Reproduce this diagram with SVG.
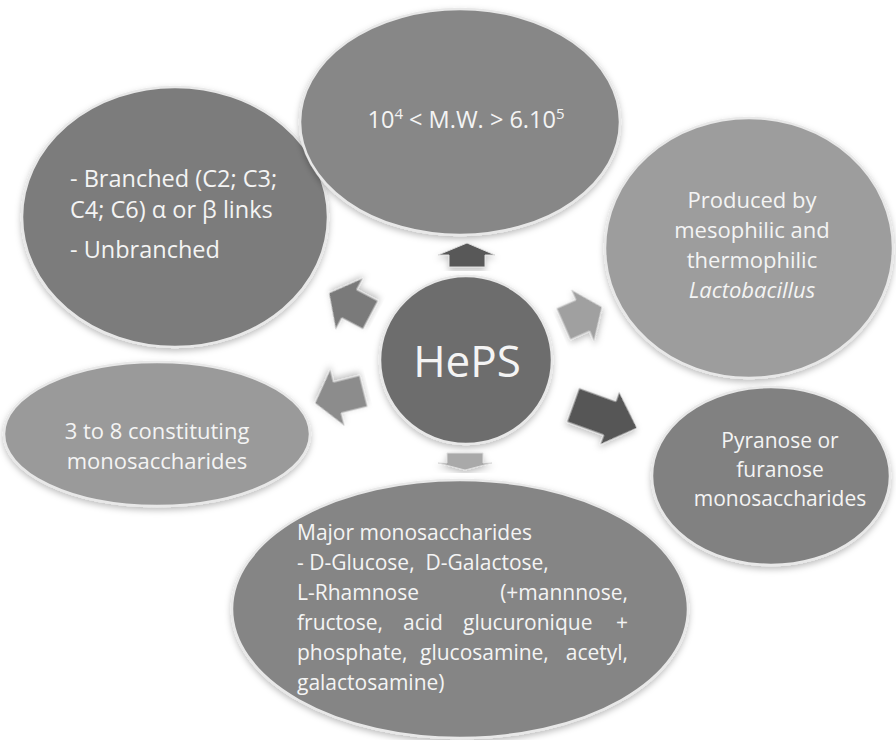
<svg xmlns="http://www.w3.org/2000/svg" width="896" height="740" viewBox="0 0 896 740">
<defs>
<filter id="sh" x="-10%" y="-10%" width="120%" height="125%">
<feDropShadow dx="0" dy="3" stdDeviation="3" flood-color="#000" flood-opacity="0.25"/>
</filter>
<style>
.node ellipse{stroke:#e8e8e8;stroke-width:2.5;filter:url(#sh)}
.t{font-family:"Open Sans","Liberation Sans",sans-serif;fill:#f4f4f4;font-size:22px}
.c{text-anchor:middle}
.s{font-size:21px}
.e{text-anchor:end}
.big{font-size:44px}
.arrow{stroke:#dcdcdc;stroke-width:1;filter:url(#sh)}
</style>
</defs>
<rect width="896" height="740" fill="#ffffff"/>

<g id="node-branched" class="node">
<ellipse cx="175" cy="217" rx="153" ry="130" fill="#7b7b7b"/>
<text class="t" x="70" y="187" style="font-size:23.5px">- Branched (C2; C3;</text>
<text class="t" x="70" y="218" style="font-size:23.5px">C4; C6) α or β links</text>
<text class="t" x="70" y="258" style="font-size:23.5px">- Unbranched</text>
</g>

<g id="node-mw" class="node">
<ellipse cx="460" cy="122" rx="160" ry="113" fill="#878787"/>
<text class="t c" x="466" y="128" style="font-size:23.5px">10<tspan style="font-size:15px" dy="-9">4</tspan><tspan dy="9"> &lt; M.W. &gt; 6.10</tspan><tspan style="font-size:15px" dy="-9">5</tspan></text>
</g>

<g id="node-produced" class="node">
<ellipse cx="749" cy="248" rx="144" ry="130" fill="#9d9d9d"/>
<text class="t c" x="752" y="208">Produced by</text>
<text class="t c" x="752" y="238">mesophilic and</text>
<text class="t c" x="752" y="268">thermophilic</text>
<text class="t c" x="752" y="298" font-style="italic">Lactobacillus</text>
</g>

<g id="node-constituting" class="node">
<ellipse cx="157" cy="434" rx="153" ry="72" fill="#9a9a9a"/>
<text class="t c" x="157" y="439">3 to 8 constituting</text>
<text class="t c" x="157" y="469">monosaccharides</text>
</g>

<g id="node-pyranose" class="node">
<ellipse cx="771" cy="476" rx="119" ry="89" fill="#818181"/>
<text class="t c s" x="780" y="448">Pyranose or</text>
<text class="t c s" x="780" y="477">furanose</text>
<text class="t c s" x="780" y="506">monosaccharides</text>
</g>

<g id="node-major" class="node">
<ellipse cx="460" cy="609" rx="228" ry="129" fill="#858585"/>
<text class="t s" x="297" y="540">Major monosaccharides</text>
<text class="t s" x="297" y="570">- D-Glucose,&#160; D-Galactose,</text>
<text class="t s" x="297" y="600">L-Rhamnose</text>
<text class="t s e" x="628" y="600">(+mannnose,</text>
<text class="t s" x="297" y="630">fructose,</text>
<text class="t s" x="403" y="630">acid</text>
<text class="t s" x="463" y="630">glucuronique</text>
<text class="t s e" x="628" y="630">+</text>
<text class="t s" x="297" y="660">phosphate,</text>
<text class="t s" x="420" y="660">glucosamine,</text>
<text class="t s e" x="628" y="660">acetyl,</text>
<text class="t s" x="297" y="690">galactosamine)</text>
</g>

<g id="node-heps" class="node">
<ellipse cx="466" cy="360" rx="86" ry="84" fill="#6d6d6d"/>
<text class="t c big" x="467" y="377">HePS</text>
</g>

<g id="connectors">
<polygon class="arrow" fill="#585858" points="449,267 449,255 438,255 467,243 495,255 485,255 485,267"/>
<polygon class="arrow" fill="#a9a9a9" points="447,453 483,453 483,463 492,463 465,470 438,463 447,463"/>
<polygon class="arrow" fill="#7a7a7a" transform="translate(370.5,315) rotate(207.9)" points="0,-16 24,-16 24,-29 47,0 24,29 24,16 0,16"/>
<polygon class="arrow" fill="#8c8c8c" transform="translate(363.5,391) rotate(166)" points="0,-16 27,-16 27,-29 50,0 27,29 27,16 0,16"/>
<polygon class="arrow" fill="#a0a0a0" transform="translate(563.5,324) rotate(-23.8)" points="0,-17 21,-17 21,-28 42,0 21,28 21,17 0,17"/>
<polygon class="arrow" fill="#565656" transform="translate(573,405) rotate(19.8)" points="0,-18 39,-18 39,-28 68,0 39,28 39,18 0,18"/>
</g>
</svg>
